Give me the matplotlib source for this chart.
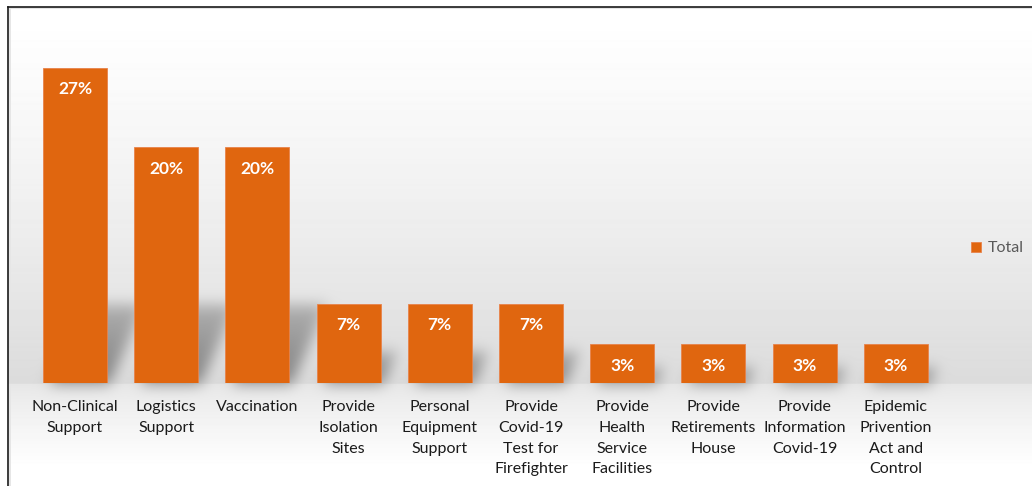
import numpy as np
import matplotlib
matplotlib.use("Agg")
import matplotlib.pyplot as plt

categories = [
    "Non-Clinical\nSupport", "Logistics\nSupport", "Vaccination",
    "Provide\nIsolation\nSites", "Personal\nEquipment\nSupport",
    "Provide\nCovid-19\nTest for\nFirefighter", "Provide\nHealth\nService\nFacilities",
    "Provide\nRetirements\nHouse", "Provide\nInformation\nCovid-19",
    "Epidemic\nPrivention\nAct and\nControl",
]
shares = [26.7, 20.0, 20.0, 6.7, 6.7, 6.7, 3.3, 3.3, 3.3, 3.3]
series_name = "Total"

BAR = "#E0660F"
W, H = 1032, 486
plt.rcParams["font.family"] = ["Lato", "DejaVu Sans"]

fig = plt.figure(figsize=(W / 100, H / 100), dpi=100)
bg = fig.add_axes([0, 0, 1, 1], zorder=0)
ax = fig.add_axes([29.4 / W, 103 / H, 912 / W, 354 / H], zorder=1)
ax.set_facecolor("none")

x = np.arange(len(shares))
ax.bar(x, shares, width=0.7, color=BAR, edgecolor="#E8824A", linewidth=0.6, label=series_name)
for xi, v in zip(x, shares):
    ax.annotate(f"{v:.0f}%", (xi, v), xytext=(0, -15.5), textcoords="offset points",
                ha="center", va="center", color="white", fontsize=12.5, fontweight="bold")
ax.set_xlim(-0.5, len(shares) - 0.5)
ax.set_ylim(0, 30)
ax.set_yticks([])
ax.set_xticks(x)
ax.set_xticklabels(categories, fontsize=11.5, color="#1a1a1a", linespacing=1.6)
ax.tick_params(axis="x", length=0, pad=12.5)
for s in ax.spines.values():
    s.set_visible(False)

leg = ax.legend(loc="center left", bbox_to_anchor=(1.017, 0.38), frameon=False,
                handlelength=0.6, handleheight=0.6, handletextpad=0.4, fontsize=11.5)
for t in leg.get_texts():
    t.set_color("#595959")

# backdrop: wall gradient down to the floor line, floor fading back to white
fig.canvas.draw()
base_px = H - ax.transData.transform((0, 0))[1]
rows = np.arange(H, dtype=float)
shade = np.ones(H)
wall = rows <= base_px
t = np.clip((rows[wall] - 8) / (base_px - 8), 0, 1)
shade[wall] = 1.0 - 0.14 * t ** 1.3
fl = ~wall
tf = np.clip((rows[fl] - base_px) / 85.0, 0, 1)
shade[fl] = 0.90 + 0.10 * tf ** 0.8
img = np.repeat(shade[:, None], W, axis=1)

# soft cast shadows leaning up and to the right behind each bar
shadow = np.zeros((H, W))
yy, xx = np.mgrid[0:H, 0:W]
for xi, v in zip(x, shares):
    (xl, _), (xr, ytop) = ax.transData.transform([(xi - 0.35, 0), (xi + 0.35, v)])
    bar_h = base_px - (H - ytop)
    hs = min(0.4 * bar_h, 78)
    dx = 0.45 * hs
    up = base_px - yy
    inside = (up >= 0) & (up <= hs)
    frac = np.where(inside, up / max(hs, 1), 0)
    left = xl + 6 + dx * frac
    right = xr + 2 + dx * frac
    m = inside & (xx >= left) & (xx <= right)
    shadow[m] = np.maximum(shadow[m], 1 - 0.45 * frac[m])


def blur(a, sigma):
    r = int(3 * sigma)
    k = np.exp(-0.5 * (np.arange(-r, r + 1) / sigma) ** 2)
    k /= k.sum()
    a = np.apply_along_axis(lambda c: np.convolve(c, k, mode="same"), 0, a)
    return np.apply_along_axis(lambda c: np.convolve(c, k, mode="same"), 1, a)


shadow = blur(shadow, 7)
img = img * (1 - 0.42 * shadow)
img[:, :8] = 1.0
img[:7, :] = 1.0
img[8:10, 9:] = np.minimum(img[8:10, 9:], 0.9)
img[8:, 9:11] = np.minimum(img[8:, 9:11], 0.9)

bg.imshow(np.clip(img, 0, 1), cmap="gray", vmin=0, vmax=1, extent=(0, W, H, 0),
          aspect="auto", interpolation="bilinear")
bg.plot([8, 8], [7.5, H], color="#1a1a1a", lw=1.2)
bg.plot([8, W], [7.5, 7.5], color="#1a1a1a", lw=1.2)
bg.set_xlim(0, W)
bg.set_ylim(H, 0)
bg.axis("off")

fig.savefig("out.png", dpi=100)
